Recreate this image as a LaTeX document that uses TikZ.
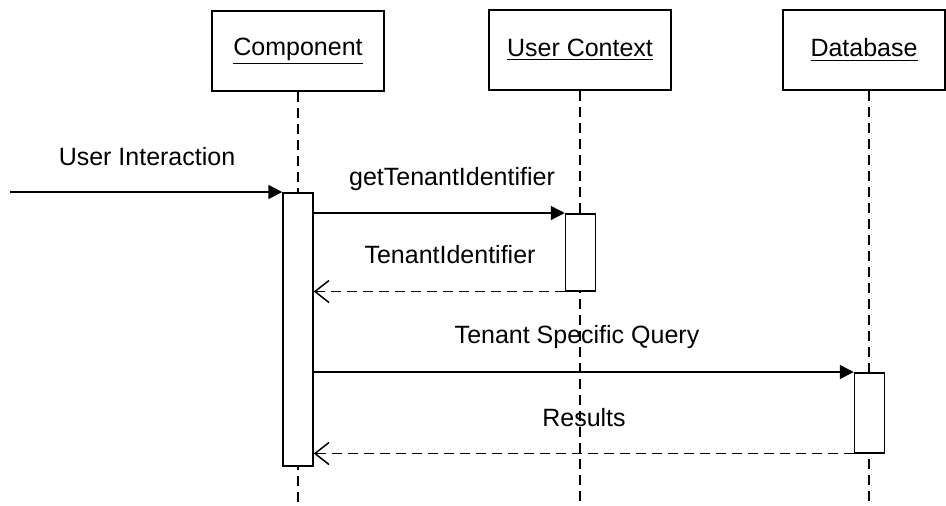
\documentclass[tikz,border=0pt]{standalone}
\usepackage{fontspec}
\setmainfont{Liberation Sans}
\usetikzlibrary{arrows.meta}
\usetikzlibrary{positioning}

\begin{document}
\begin{tikzpicture}[x=0.5pt, y=-0.5pt, line width=0.75pt, font=\fontsize{12.5}{15}\selectfont]
\tikzstyle{object} = [rectangle, minimum width=86pt, minimum height=40pt, inner sep=0pt, text centered, draw=black]
\tikzstyle{bar} = [rectangle, minimum width=15pt, inner sep=0pt, anchor=north, draw=black, fill=white]
\tikzstyle{lifeline} = [dash pattern=on 5pt off 3pt]
\tikzstyle{msg} = [-{Triangle[length=7pt, width=7pt]}]
\tikzstyle{reply} = [dash pattern=on 5pt off 3pt, -{Straight Barb[length=7pt, width=11pt]}]
\tikzstyle{label} = [inner sep=0pt]

\useasboundingbox (0,0) rectangle (946,505);

% Objects
\node (comp) [object, minimum width=86pt] at (298,51) {\underline{Component}};
\node (ctx) [object, minimum width=91pt] at (580,50) {\underline{User Context}};
\node (db) [object, minimum width=81pt] at (864,50) {\underline{Database}};

% Ends
\coordinate (bottom) at (0,505);
\coordinate (start) at (10,192);

% Lifelines
\draw[lifeline] (comp) -- (comp |- bottom);
\draw[lifeline] (ctx) -- (ctx |- bottom);
\draw[lifeline] (db.south -| 869,0) -- (869,505);

% Activations
\node (actcomp) [bar, minimum height=136.5pt] at (298,192) {};
\node (actctx) [bar, minimum height=38.5pt] at (580.5,213) {};
\node (actdb) [bar, minimum height=40pt] at (869.5,372) {};

% Messages
\draw[msg] (start) -- (actcomp.north west);
\draw[msg] (actcomp.east |- actctx.north) -- (actctx.north west);
\draw[reply] (actctx.south west) -- (actcomp.east |- actctx.south);
\draw[msg] (actcomp.east |- actdb.north) -- (actdb.north west);
\draw[reply] (actdb.south west) -- (actcomp.east |- actdb.south);

% Labels
\node (l1) [label] at (147,157) {User Interaction};
\node (l2) [label] at (452,179) {getTenantIdentifier};
\node (l3) [label] at (450,255) {TenantIdentifier};
\node (l4) [label] at (577,337) {Tenant Specific Query};
\node (l5) [label] at (584,418) {Results};
\end{tikzpicture}
\end{document}
